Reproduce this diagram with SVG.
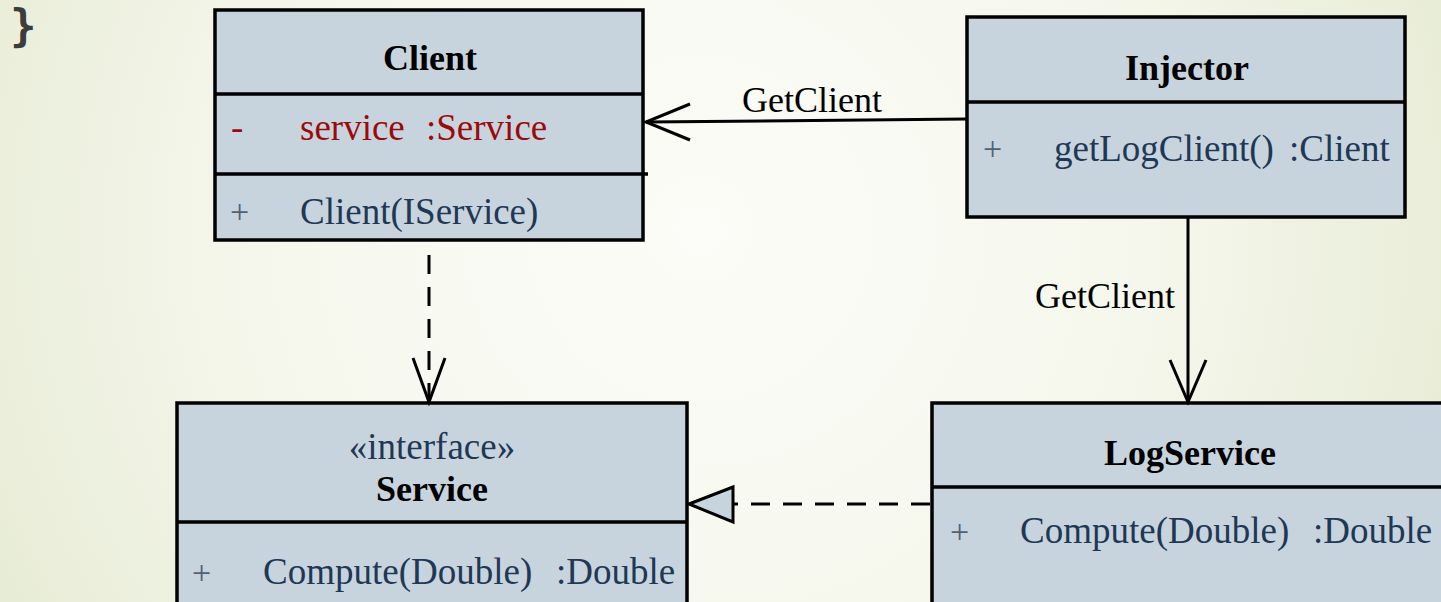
<svg xmlns="http://www.w3.org/2000/svg" width="1441" height="602" viewBox="0 0 1441 602">
<defs>
<radialGradient id="bg" cx="700" cy="230" r="820" gradientUnits="userSpaceOnUse">
<stop offset="0" stop-color="#fcfcf8"/>
<stop offset="0.55" stop-color="#f5f7ec"/>
<stop offset="1" stop-color="#e6ebd4"/>
</radialGradient>
</defs>
<style>
.box{fill:#c8d4dd;stroke:#000;stroke-width:3.5}
.div{stroke:#000;stroke-width:3.5}
.title{font-family:"Liberation Serif","Times New Roman",serif;font-weight:bold;font-size:36px;fill:#000;text-anchor:middle}
.mem{font-family:"Liberation Serif","Times New Roman",serif;font-size:37px;fill:#1e3856}
.vis{font-family:"Liberation Serif","Times New Roman",serif;font-size:34px;fill:#4f6275}
.priv{fill:#9a0a0a}
.lbl{font-family:"Liberation Serif","Times New Roman",serif;font-size:36px;fill:#000}
.line{fill:none;stroke:#000;stroke-width:3}
.head{fill:none;stroke:#000;stroke-width:3;stroke-linejoin:miter}
.dash{stroke-dasharray:19 13}
</style>
<rect x="0" y="0" width="1441" height="602" fill="url(#bg)"/>
<text x="10" y="41" font-family="DejaVu Sans Mono, monospace" font-weight="bold" font-size="44" fill="#3c3c3c">}</text>

<g id="client">
<rect class="box" x="215" y="10" width="428" height="230"/>
<line class="div" x1="215" y1="94" x2="643" y2="94"/>
<line class="div" x1="215" y1="174" x2="648" y2="174"/>
<text class="title" x="430" y="70">Client</text>
<text class="mem priv" x="231" y="140">-</text>
<text class="mem priv" x="300" y="140">service</text>
<text class="mem priv" x="426" y="140">:Service</text>
<text class="vis" x="230" y="223">+</text>
<text class="mem" x="300" y="224">Client(IService)</text>
</g>

<g id="injector">
<rect class="box" x="967" y="17" width="438" height="200"/>
<line class="div" x1="967" y1="102" x2="1405" y2="102"/>
<text class="title" x="1187" y="80">Injector</text>
<text class="vis" x="983" y="160">+</text>
<text class="mem" x="1054" y="161">getLogClient()</text>
<text class="mem" x="1289" y="161">:Client</text>
</g>

<g id="service">
<rect class="box" x="177" y="403" width="510" height="230"/>
<line class="div" x1="177" y1="522" x2="687" y2="522"/>
<text class="mem" x="432" y="459" text-anchor="middle" fill="#000">«interface»</text>
<text class="title" x="432" y="501">Service</text>
<text class="vis" x="192" y="584">+</text>
<text class="mem" x="263" y="584">Compute(Double)</text>
<text class="mem" x="556" y="584">:Double</text>
</g>

<g id="logservice">
<rect class="box" x="932" y="403" width="540" height="230"/>
<line class="div" x1="932" y1="487" x2="1472" y2="487"/>
<text class="title" x="1190" y="465">LogService</text>
<text class="vis" x="950" y="543">+</text>
<text class="mem" x="1020" y="543">Compute(Double)</text>
<text class="mem" x="1313" y="543">:Double</text>
</g>

<g id="connectors">
<line class="line" x1="967" y1="119" x2="646" y2="122"/>
<polyline class="head" points="690,104 646,122 690,140"/>
<text class="lbl" x="742" y="112">GetClient</text>
<line class="line" x1="1188" y1="217" x2="1188" y2="402"/>
<polyline class="head" points="1170,360 1188,402 1206,360"/>
<text class="lbl" x="1035" y="308">GetClient</text>
<line class="line dash" x1="429" y1="255" x2="429" y2="401"/>
<polyline class="head" points="413,358 429,402 445,358"/>
<line class="line dash" x1="930" y1="504" x2="733" y2="504"/>
<polygon points="689,504 733,487 733,522" fill="#c8d4dd" stroke="#000" stroke-width="3"/>
</g>
</svg>
